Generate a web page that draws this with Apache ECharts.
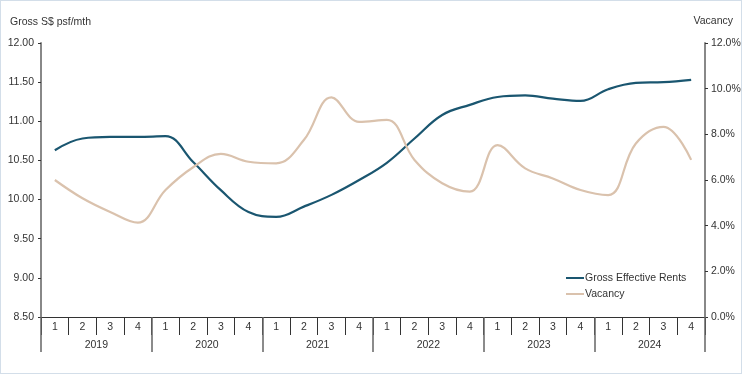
<!DOCTYPE html>
<html>
<head>
<meta charset="utf-8">
<script src="https://cdn.jsdelivr.net/npm/echarts@6/dist/echarts.min.js"></script>
<style>
html,body{margin:0;padding:0;background:#fff;}
#frame{position:absolute;left:0;top:0;width:740px;height:372px;border:1px solid #d3dee9;}
#chart{position:absolute;left:0;top:0;width:744px;height:375px;}
</style>
</head>
<body>
<div id="frame"></div>
<div id="chart"></div>
<script>
const quarters = ['1','2','3','4','1','2','3','4','1','2','3','4','1','2','3','4','1','2','3','4','1','2','3','4'];
const years = ['2019','2020','2021','2022','2023','2024'];
const rents = [10.63,10.78,10.80,10.80,10.81,10.48,10.12,9.84,9.78,9.91,10.06,10.25,10.47,10.78,11.08,11.21,11.31,11.33,11.29,11.26,11.41,11.49,11.50,11.53];
const vacancy = [6.0,5.2,4.6,4.13,5.56,6.56,7.14,6.8,6.73,7.75,9.62,8.55,8.63,6.88,5.86,5.49,7.53,6.51,6.07,5.56,5.34,7.6,8.33,6.88];
const rentTicks = {min:8.5, max:12, interval:0.5};
const vacTicks = {min:0, max:12, interval:2};

const font = 'Liberation Sans, Arial, sans-serif';
const txt = {fontFamily: font, fontSize: 10.5, color: '#333'};
const chart = echarts.init(document.getElementById('chart'));
chart.setOption({
  animation: false,
  textStyle: {fontFamily: font},
  title: [
    {text: 'Gross S$ psf/mth', left: 5, top: 12, textStyle: Object.assign({}, txt, {fontWeight: 'normal'})},
    {text: 'Vacancy', right: 6, top: 11, textStyle: Object.assign({}, txt, {fontWeight: 'normal'})}
  ],
  legend: {
    orient: 'vertical', left: 566, top: 272, padding: 0,
    itemWidth: 18, itemHeight: 2, itemGap: 4, icon: 'rect',
    textStyle: Object.assign({padding: [0, 0, 0, -4], lineHeight: 12}, txt),
    data: ['Gross Effective Rents', 'Vacancy']
  },
  grid: {left: 41, right: 39, top: 43, bottom: 58, containLabel: false},
  xAxis: [
    {
      type: 'category', data: quarters, boundaryGap: true, position: 'bottom',
      axisLine: {show: true, lineStyle: {color: '#333', width: 1}},
      axisTick: {show: true, interval: 0, length: 18, lineStyle: {color: '#333'}},
      axisLabel: Object.assign({interval: 0, margin: 5}, txt)
    },
    {
      type: 'category', data: years, boundaryGap: true, position: 'bottom',
      axisLine: {show: false},
      axisTick: {show: true, interval: 0, length: 35, lineStyle: {color: '#666', width: 1.5}},
      axisLabel: Object.assign({interval: 0, margin: 23}, txt)
    }
  ],
  yAxis: [
    {
      type: 'value', min: rentTicks.min, max: rentTicks.max, interval: rentTicks.interval,
      axisLine: {show: true, lineStyle: {color: '#888', width: 2}},
      axisTick: {show: true, length: 3, lineStyle: {color: '#333'}},
      splitLine: {show: false},
      axisLabel: Object.assign({margin: 7, formatter: v => v.toFixed(2)}, txt)
    },
    {
      type: 'value', min: vacTicks.min, max: vacTicks.max, interval: vacTicks.interval,
      position: 'right',
      axisLine: {show: true, lineStyle: {color: '#888', width: 2}},
      axisTick: {show: true, length: 3, lineStyle: {color: '#333'}},
      splitLine: {show: false},
      axisLabel: Object.assign({margin: 6, formatter: v => v.toFixed(1) + '%'}, txt)
    }
  ],
  series: [
    {
      name: 'Gross Effective Rents', type: 'line', data: rents, yAxisIndex: 0, xAxisIndex: 0,
      smooth: 0.4, symbol: 'none',
      lineStyle: {color: '#1a5670', width: 2.2}, itemStyle: {color: '#1a5670'}
    },
    {
      name: 'Vacancy', type: 'line', data: vacancy, yAxisIndex: 1, xAxisIndex: 0,
      smooth: 0.4, symbol: 'none',
      lineStyle: {color: '#dac2ad', width: 2.2}, itemStyle: {color: '#dac2ad'}
    }
  ]
});
</script>
</body>
</html>
